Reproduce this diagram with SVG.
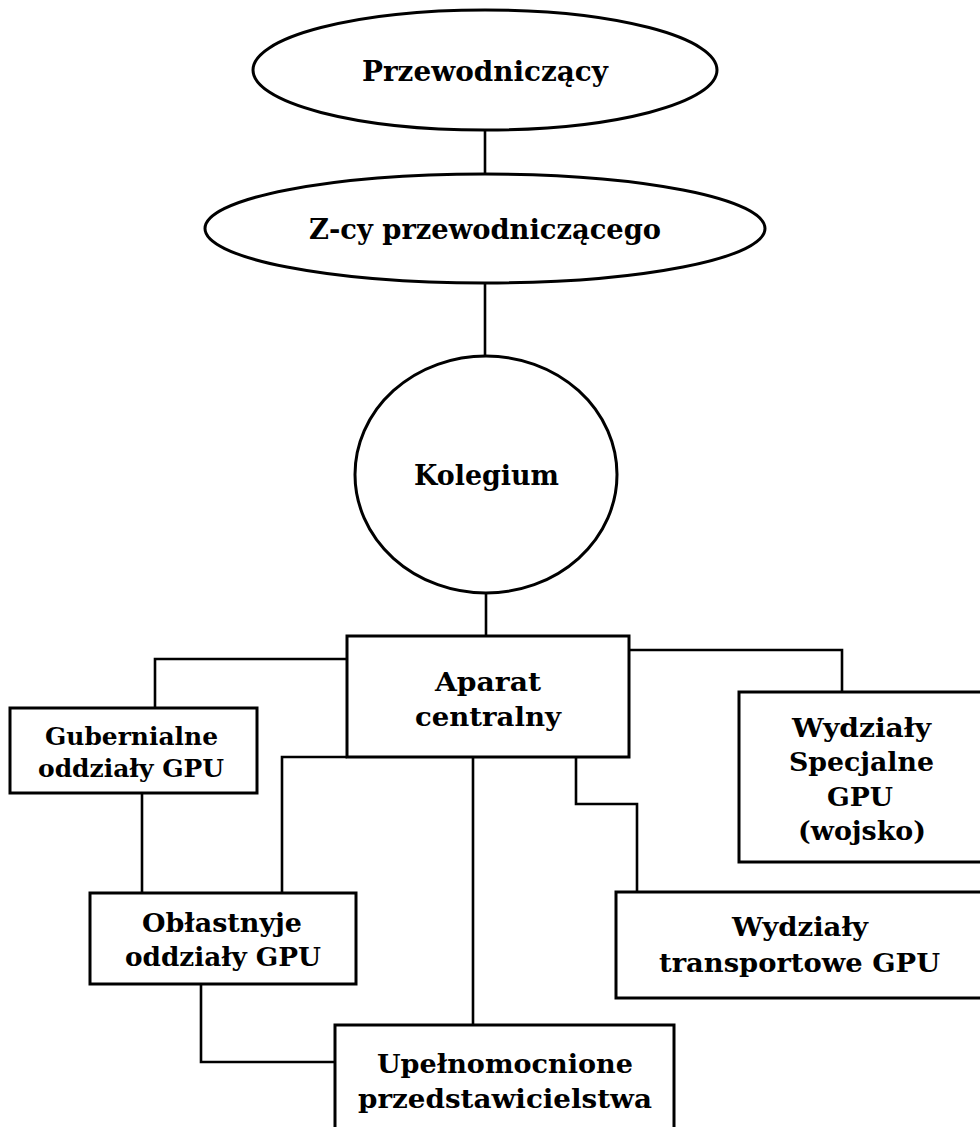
<svg xmlns="http://www.w3.org/2000/svg" width="980" height="1127" viewBox="0 0 980 1127">
<style>
.shape{fill:#fff;stroke:#000;stroke-width:3}
.conn{fill:none;stroke:#000;stroke-width:2.6}
text{font-family:"DejaVu Serif","Liberation Serif",serif;font-weight:bold;fill:#000;text-anchor:middle}
.big{font-size:27px}
.mid{font-size:26px}
.sm{font-size:24px}
</style>
<rect width="980" height="1127" fill="#fff"/>
<g id="connectors">
<path class="conn" d="M485,130V174"/>
<path class="conn" d="M485,283V356"/>
<path class="conn" d="M486,593V636"/>
<path class="conn" d="M347,659H155V708"/>
<path class="conn" d="M629,650H842V692"/>
<path class="conn" d="M142,793V893"/>
<path class="conn" d="M347,757H282V893"/>
<path class="conn" d="M473,757V1025"/>
<path class="conn" d="M576,757V804H637V892"/>
<path class="conn" d="M201,984V1062H335"/>
</g>
<g id="przewodniczacy">
<ellipse class="shape" cx="485" cy="70" rx="232" ry="60"/>
<text class="big" x="485" y="81" textLength="246" lengthAdjust="spacingAndGlyphs">Przewodniczący</text>
</g>
<g id="zastepcy">
<ellipse class="shape" cx="485" cy="228.5" rx="280" ry="54.5"/>
<text class="big" x="485" y="239" textLength="352" lengthAdjust="spacingAndGlyphs">Z-cy przewodniczącego</text>
</g>
<g id="kolegium">
<ellipse class="shape" cx="486" cy="474.5" rx="131" ry="118.5"/>
<text class="big" x="486.5" y="485" textLength="145" lengthAdjust="spacingAndGlyphs">Kolegium</text>
</g>
<g id="aparat">
<rect class="shape" x="347" y="636" width="282" height="121"/>
<text class="mid" x="488" y="691" textLength="106" lengthAdjust="spacingAndGlyphs">Aparat</text>
<text class="mid" x="488" y="726" textLength="146" lengthAdjust="spacingAndGlyphs">centralny</text>
</g>
<g id="gubernialne">
<rect class="shape" x="10" y="708" width="247" height="85"/>
<text class="sm" x="131.5" y="745" textLength="173" lengthAdjust="spacingAndGlyphs">Gubernialne</text>
<text class="sm" x="131" y="777" textLength="186" lengthAdjust="spacingAndGlyphs">oddziały GPU</text>
</g>
<g id="oblastnyje">
<rect class="shape" x="90" y="893" width="266" height="91"/>
<text class="mid" x="222" y="932" textLength="160" lengthAdjust="spacingAndGlyphs">Obłastnyje</text>
<text class="mid" x="223" y="966" textLength="196" lengthAdjust="spacingAndGlyphs">oddziały GPU</text>
</g>
<g id="specjalne">
<rect class="shape" x="739" y="692" width="260" height="170"/>
<text class="mid" x="861.5" y="737" textLength="139" lengthAdjust="spacingAndGlyphs">Wydziały</text>
<text class="mid" x="861.5" y="771" textLength="145" lengthAdjust="spacingAndGlyphs">Specjalne</text>
<text class="mid" x="860" y="806" textLength="66" lengthAdjust="spacingAndGlyphs">GPU</text>
<text class="mid" x="862" y="840" textLength="128" lengthAdjust="spacingAndGlyphs">(wojsko)</text>
</g>
<g id="transportowe">
<rect class="shape" x="616" y="892" width="383" height="106"/>
<text class="mid" x="800" y="936" textLength="136" lengthAdjust="spacingAndGlyphs">Wydziały</text>
<text class="mid" x="799.5" y="972" textLength="281" lengthAdjust="spacingAndGlyphs">transportowe GPU</text>
</g>
<g id="upelnomocnione">
<rect class="shape" x="335" y="1025" width="339" height="120"/>
<text class="mid" x="505" y="1073" textLength="256" lengthAdjust="spacingAndGlyphs">Upełnomocnione</text>
<text class="mid" x="505" y="1108" textLength="294" lengthAdjust="spacingAndGlyphs">przedstawicielstwa</text>
</g>
</svg>
